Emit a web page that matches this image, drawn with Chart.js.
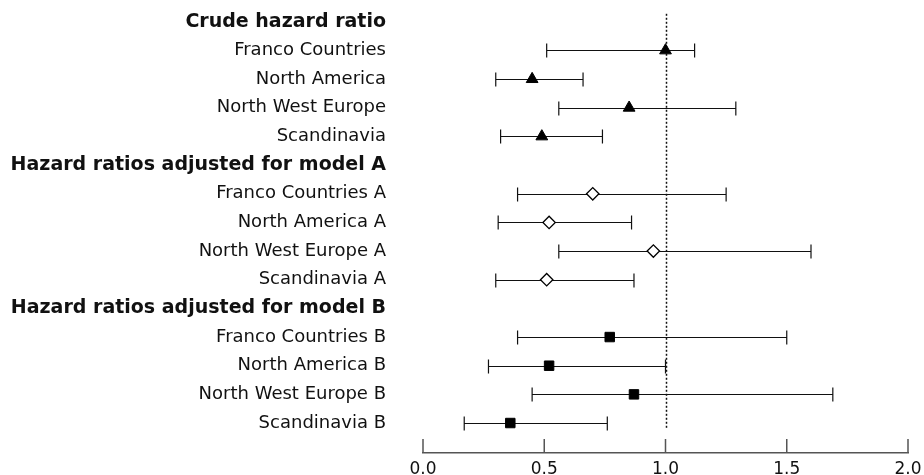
<!DOCTYPE html>
<html>
<head>
<meta charset="utf-8">
<script src="https://cdn.jsdelivr.net/npm/chart.js@4.4.1/dist/chart.umd.min.js"></script>
<style>
  html, body { margin: 0; padding: 0; background: #fff; }
  #wrap { width: 924px; height: 475px; }
</style>
</head>
<body>
<div id="wrap"><canvas id="forestChart" width="924" height="475"></canvas></div>
<script>
// rows top to bottom
const rowLabels = [
    'Crude hazard ratio',
    'Franco Countries', 'North America', 'North West Europe', 'Scandinavia',
    'Hazard ratios adjusted for model A',
    'Franco Countries A', 'North America A', 'North West Europe A', 'Scandinavia A',
    'Hazard ratios adjusted for model B',
    'Franco Countries B', 'North America B', 'North West Europe B', 'Scandinavia B'
];
const headerRows = [0, 5, 10];

const crudeRows = [1, 2, 3, 4];
const crudeEst  = [1.00, 0.45, 0.85, 0.49];
const crudeLow  = [0.51, 0.30, 0.56, 0.32];
const crudeHigh = [1.12, 0.66, 1.29, 0.74];

const modelARows = [6, 7, 8, 9];
const modelAEst  = [0.70, 0.52, 0.95, 0.51];
const modelALow  = [0.39, 0.31, 0.56, 0.30];
const modelAHigh = [1.25, 0.86, 1.60, 0.87];

const modelBRows = [11, 12, 13, 14];
const modelBEst  = [0.77, 0.52, 0.87, 0.36];
const modelBLow  = [0.39, 0.27, 0.45, 0.17];
const modelBHigh = [1.50, 1.00, 1.69, 0.76];

const xTicks = [0, 0.5, 1.0, 1.5, 2.0];
const refValue = 1.0;

const FONT = 'DejaVu Sans';

const groups = [
    { rows: crudeRows, est: crudeEst, low: crudeLow, high: crudeHigh },
    { rows: modelARows, est: modelAEst, low: modelALow, high: modelAHigh },
    { rows: modelBRows, est: modelBEst, low: modelBLow, high: modelBHigh }
];

function points(rows, est) {
    return rows.map((r, i) => ({ x: est[i], y: r }));
}

const forestPlugin = {
    id: 'forestMarks',
    beforeDatasetsDraw(chart) {
        const c = chart.ctx;
        const xs = chart.scales.x, ys = chart.scales.y;
        // reference line
        c.save();
        c.strokeStyle = '#111';
        c.lineWidth = 1.5;
        c.setLineDash([2, 2]);
        const rx = Math.round(xs.getPixelForValue(refValue)) + 0.5;
        c.beginPath();
        c.moveTo(rx, ys.getPixelForValue(-0.28));
        c.lineTo(rx, ys.getPixelForValue(14.22));
        c.stroke();
        c.restore();

        // confidence intervals
        c.save();
        c.strokeStyle = '#111';
        c.lineWidth = 1.2;
        groups.forEach(g => {
            g.rows.forEach((r, i) => {
                const y = Math.round(ys.getPixelForValue(r)) + 0.5;
                const x1 = xs.getPixelForValue(g.low[i]);
                const x2 = xs.getPixelForValue(g.high[i]);
                c.beginPath();
                c.moveTo(x1, y); c.lineTo(x2, y);
                c.moveTo(x1, y - 7); c.lineTo(x1, y + 7);
                c.moveTo(x2, y - 7); c.lineTo(x2, y + 7);
                c.stroke();
            });
        });
        c.restore();
    },
    afterDraw(chart) {
        const c = chart.ctx;
        const xs = chart.scales.x;
        const yb = chart.chartArea.bottom;
        c.save();
        c.strokeStyle = '#555';
        c.lineWidth = 1.5;
        c.beginPath();
        xTicks.forEach(t => {
            const x = xs.getPixelForValue(t);
            c.moveTo(x, yb);
            c.lineTo(x, yb - 14);
        });
        c.stroke();
        c.restore();
    }
};

new Chart(document.getElementById('forestChart').getContext('2d'), {
    type: 'scatter',
    data: {
        datasets: [{
            label: 'Crude',
            data: points(crudeRows, crudeEst),
            pointStyle: 'triangle',
            pointRadius: 6.8,
            backgroundColor: '#000',
            borderColor: '#000',
            borderWidth: 1
        }, {
            label: 'Model A',
            data: points(modelARows, modelAEst),
            pointStyle: 'rectRot',
            pointRadius: 6.2,
            backgroundColor: '#fff',
            borderColor: '#000',
            borderWidth: 1.3
        }, {
            label: 'Model B',
            data: points(modelBRows, modelBEst),
            pointStyle: 'rect',
            pointRadius: 6.7,
            backgroundColor: '#000',
            borderColor: '#000',
            borderWidth: 1
        }]
    },
    options: {
        responsive: false,
        animation: false,
        devicePixelRatio: 1,
        layout: { padding: { top: 0, right: 16, bottom: 0, left: 0 } },
        plugins: {
            legend: { display: false },
            tooltip: { enabled: false }
        },
        scales: {
            x: {
                type: 'linear',
                min: 0,
                max: 2,
                afterBuildTicks: axis => { axis.ticks = xTicks.map(v => ({ value: v })); },
                afterFit: axis => {
                    axis.height = 22;
                    axis.paddingLeft = 0;
                    axis.paddingRight = 0;
                },
                grid: { drawOnChartArea: false, drawTicks: false },
                border: { display: true, color: '#555', width: 1.5 },
                ticks: {
                    padding: 6,
                    maxRotation: 0,
                    color: '#111',
                    font: { family: FONT, size: 17 },
                    callback: v => v.toFixed(1)
                }
            },
            y: {
                type: 'linear',
                reverse: true,
                min: -0.489,
                max: 15.046,
                afterBuildTicks: axis => { axis.ticks = rowLabels.map((l, i) => ({ value: i })); },
                afterFit: axis => {
                    axis.width = 423;
                    axis.paddingTop = 0;
                    axis.paddingBottom = 0;
                },
                grid: { display: false, drawTicks: false },
                border: { display: false },
                ticks: {
                    autoSkip: false,
                    padding: 37,
                    color: '#111',
                    font: ctx => headerRows.includes(ctx.index)
                        ? { family: FONT, size: 19, weight: 'bold' }
                        : { family: FONT, size: 18 },
                    callback: v => rowLabels[v]
                }
            }
        }
    },
    plugins: [forestPlugin]
});
</script>
</body>
</html>
